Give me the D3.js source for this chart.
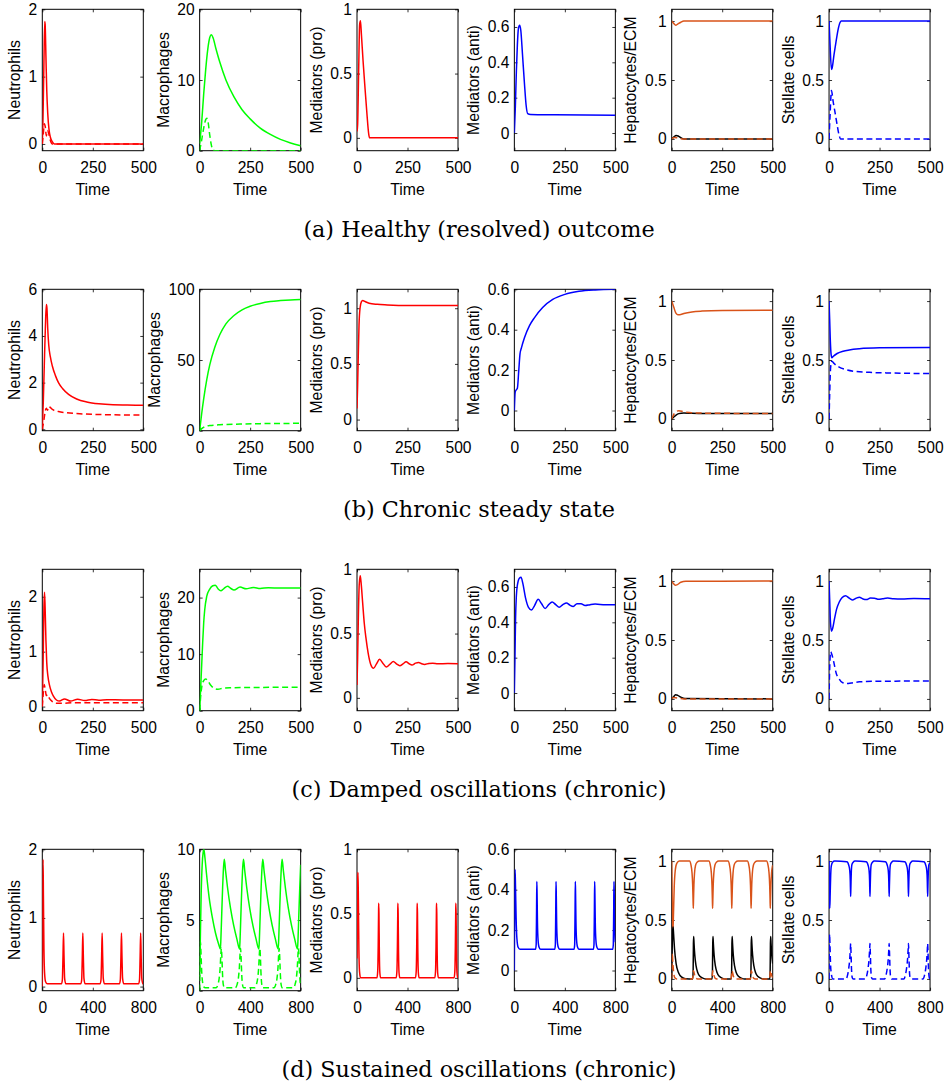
<!DOCTYPE html>
<html>
<head>
<meta charset="utf-8">
<script src="https://cdn.jsdelivr.net/npm/d3@7"></script>
<style>
  body { margin: 0; background: #fff; }
  svg { display: block; }
  .tick text { font-family: "Liberation Sans", Arial, sans-serif; font-size: 15.6px; fill: #000; }
  .lbl { font-family: "Liberation Sans", Arial, sans-serif; font-size: 15.8px; fill: #000; }
  .cap { font-family: "DejaVu Serif", serif; font-size: 22.3px; fill: #000; }
</style>
</head>
<body>
<script>
// ---- data: [time, value] ----

// (a) healthy
const a_neut = [[0,0],[3,0.3],[8,1.2],[12,1.82],[14,1.78],[18,1.3],[22,0.8],[27,0.45],[33,0.22],[40,0.1],[50,0.03],[60,0],[500,0]];
const a_neutD = [[0,0],[5,0.15],[10,0.3],[15,0.25],[20,0.12],[26,0.2],[32,0.15],[40,0.05],[50,0],[500,0]];
const a_mac = [[0,1],[10,4],[20,8],[30,11.5],[40,14.3],[50,16],[58,16.4],[66,16],[80,14.5],[100,12.5],[130,10],[170,7.6],[210,5.8],[250,4.5],[300,3.2],[350,2.3],[400,1.6],[450,1.1],[500,0.7]];
const a_macD = [[0,0],[10,1.5],[20,3.2],[30,4.4],[36,4.6],[42,4],[50,2.2],[58,0.8],[66,0.1],[75,0],[500,0]];
const a_pro = [[0,0.05],[3,0.1],[8,0.5],[13,0.88],[17,0.91],[22,0.8],[30,0.6],[40,0.38],[50,0.17],[58,0.03],[62,0],[500,0]];
const a_anti = [[0,0],[5,0.15],[10,0.35],[15,0.5],[20,0.59],[26,0.61],[32,0.58],[40,0.45],[50,0.28],[58,0.16],[66,0.11],[80,0.105],[200,0.103],[500,0.1]];
const a_hep = [[0,1],[10,0.98],[20,0.965],[30,0.975],[45,0.99],[60,1],[500,1]];
const a_ecm = [[0,0],[10,0.015],[22,0.03],[32,0.025],[45,0.01],[60,0],[500,0]];
const a_hepD = [[0,0],[12,0.012],[25,0.01],[40,0.003],[60,0],[500,0]];
const a_stel = [[0,1],[5,0.8],[12,0.59],[15,0.6],[25,0.72],[35,0.83],[45,0.93],[55,0.99],[60,1],[500,1]];
const a_stelD = [[0,0],[5,0.2],[12,0.41],[20,0.32],[30,0.22],[40,0.12],[50,0.03],[57,0],[500,0]];

// (b) chronic steady state
const b_neut = [[0,0],[5,1.2],[10,2.8],[15,4.3],[20,5.35],[23,5.2],[27,4.3],[32,3.6],[40,3.1],[50,2.7],[65,2.3],[80,2.0],[100,1.75],[130,1.5],[170,1.3],[220,1.17],[280,1.09],[350,1.05],[420,1.04],[500,1.03]];
const b_neutD = [[0,0],[8,0.4],[15,0.8],[20,0.9],[26,0.82],[32,0.98],[38,0.95],[50,0.85],[80,0.76],[120,0.71],[200,0.66],[300,0.63],[500,0.61]];
const b_mac = [[0,0],[10,12],[20,22.5],[35,36],[50,46.5],[75,59],[100,68],[130,75.5],[170,81.5],[210,85.5],[250,88],[300,90],[350,91.3],[400,92],[450,92.5],[500,92.8]];
const b_macD = [[0,0],[15,2],[30,3.2],[50,3.6],[100,4.2],[200,4.7],[300,5],[500,5.2]];
const b_pro = [[0,0.1],[3,0.3],[6,0.55],[10,0.85],[15,1.0],[22,1.06],[28,1.07],[40,1.06],[60,1.045],[100,1.035],[150,1.03],[250,1.025],[500,1.025]];
const b_anti = [[0,0],[4,0.09],[8,0.1],[15,0.11],[22,0.2],[28,0.28],[35,0.31],[50,0.36],[75,0.42],[100,0.46],[140,0.51],[190,0.55],[250,0.575],[320,0.59],[400,0.597],[500,0.6]];
const b_hep = [[0,1],[10,0.95],[20,0.9],[30,0.885],[40,0.885],[60,0.895],[100,0.908],[150,0.915],[250,0.92],[500,0.922]];
const b_ecm = [[0,0],[10,0.015],[20,0.03],[35,0.045],[60,0.05],[100,0.048],[200,0.045],[500,0.045]];
const b_hepD = [[0,0],[8,0.03],[20,0.06],[35,0.07],[60,0.06],[100,0.052],[200,0.048],[500,0.046]];
const b_stel = [[0,1],[3,0.85],[6,0.68],[10,0.55],[14,0.52],[20,0.53],[40,0.555],[70,0.575],[100,0.585],[150,0.595],[250,0.603],[500,0.607]];
const b_stelD = [[0,0],[3,0.2],[6,0.38],[10,0.47],[14,0.49],[25,0.47],[50,0.44],[80,0.42],[120,0.405],[200,0.395],[300,0.39],[500,0.385]];

// (c) damped oscillations
const c_neut = [[0,0],[4,0.8],[8,1.8],[11,2.08],[14,1.8],[18,1.2],[22,0.8],[28,0.55],[35,0.4],[45,0.27],[55,0.19],[70,0.12],[85,0.1],[110,0.14],[140,0.1],[175,0.135],[210,0.11],[245,0.13],[280,0.115],[320,0.125],[400,0.12],[500,0.12]];
const c_neutD = [[0,0],[5,0.25],[10,0.4],[15,0.3],[20,0.2],[25,0.22],[35,0.15],[50,0.09],[70,0.06],[100,0.06],[150,0.07],[250,0.07],[500,0.07]];
const c_mac = [[0,0],[5,4],[10,8],[15,12],[20,15.5],[25,17.8],[35,20.2],[50,21.5],[65,22.1],[77,22.2],[90,21.6],[105,21.2],[120,21.6],[138,22],[155,21.6],[170,21.35],[200,21.85],[230,21.55],[265,21.8],[300,21.6],[340,21.75],[400,21.68],[500,21.7]];
const c_macD = [[0,0],[5,2.5],[12,4.5],[20,5.3],[30,5.6],[40,5.3],[55,4.5],[70,4.0],[90,3.8],[120,4.0],[160,4.05],[250,4.1],[500,4.15]];
const c_pro = [[0,0.1],[3,0.3],[7,0.65],[11,0.88],[16,0.95],[20,0.9],[28,0.74],[36,0.58],[44,0.47],[55,0.35],[68,0.26],[82,0.23],[95,0.26],[112,0.3],[128,0.27],[145,0.24],[162,0.26],[180,0.283],[195,0.265],[212,0.25],[228,0.265],[243,0.28],[258,0.265],[272,0.255],[290,0.27],[305,0.275],[320,0.265],[335,0.26],[355,0.268],[375,0.27],[400,0.265],[450,0.267],[500,0.266]];
const c_anti = [[0,0],[3,0.2],[6,0.42],[10,0.55],[15,0.61],[25,0.65],[33,0.655],[42,0.62],[55,0.54],[70,0.485],[85,0.47],[100,0.495],[118,0.53],[135,0.505],[152,0.478],[170,0.5],[187,0.515],[205,0.5],[222,0.485],[240,0.5],[258,0.51],[275,0.497],[292,0.49],[310,0.505],[330,0.505],[350,0.495],[375,0.5],[400,0.503],[450,0.5],[500,0.5]];
const c_hep = [[0,1],[8,0.98],[18,0.965],[28,0.97],[45,0.99],[70,0.998],[500,1]];
const c_ecm = [[0,0],[10,0.02],[20,0.035],[30,0.03],[45,0.015],[65,0.003],[500,0]];
const c_hepD = [[0,0],[8,0.012],[20,0.01],[40,0.004],[60,0],[500,0]];
const c_stel = [[0,1],[3,0.85],[7,0.65],[12,0.575],[18,0.6],[27,0.68],[37,0.76],[50,0.82],[65,0.86],[82,0.875],[100,0.855],[118,0.84],[135,0.855],[150,0.863],[168,0.848],[185,0.843],[205,0.856],[225,0.855],[245,0.845],[265,0.85],[290,0.856],[320,0.85],[360,0.848],[420,0.852],[500,0.85]];
const c_stelD = [[0,0],[3,0.25],[8,0.4],[15,0.37],[25,0.3],[35,0.22],[50,0.17],[65,0.14],[85,0.13],[110,0.135],[150,0.145],[250,0.15],[500,0.152]];

// (d) sustained oscillations
const d_neut = [[0,0],[3,1.3],[6,1.85],[9,1.3],[13,0.55],[18,0.2],[26,0.07],[40,0.04],[152,0.04],[159,0.1],[164,0.45],[168,0.78],[172,0.45],[177,0.12],[186,0.04],
  [305,0.04],[312,0.1],[317,0.45],[321,0.78],[325,0.45],[330,0.12],[339,0.04],
  [458,0.04],[465,0.1],[470,0.45],[474,0.78],[478,0.45],[483,0.12],[492,0.04],
  [611,0.04],[618,0.1],[623,0.45],[627,0.78],[631,0.45],[636,0.12],[645,0.04],
  [763,0.04],[770,0.1],[775,0.45],[779,0.78],[783,0.45],[788,0.12],[797,0.04],[800,0.04]];
const d_mac = [[0,1],[6,4],[12,6.8],[20,8.9],[28,9.8],[34,10],[42,9.4],[55,8.2],[75,6.6],[100,5.2],[125,4.1],[150,3.3],[164,2.95],
  [168,3.6],[174,5.2],[182,7.3],[189,8.7],[195,9.3],[205,8.5],[220,7.35],[245,5.8],[270,4.6],[295,3.65],[316,2.95],
  [320,3.6],[326,5.2],[334,7.3],[341,8.7],[347,9.3],[357,8.5],[372,7.35],[397,5.8],[422,4.6],[447,3.65],[469,2.95],
  [473,3.6],[479,5.2],[487,7.3],[494,8.7],[500,9.3],[510,8.5],[525,7.35],[550,5.8],[575,4.6],[600,3.65],[622,2.95],
  [626,3.6],[632,5.2],[640,7.3],[647,8.7],[653,9.3],[663,8.5],[678,7.35],[703,5.8],[728,4.6],[753,3.65],[775,2.95],
  [779,3.6],[785,5.2],[793,7.3],[800,8.9]];
const d_macD = [[0,0],[3,2.5],[6,3.5],[10,2.8],[16,1.4],[24,0.55],[35,0.25],[50,0.2],
  [130,0.2],[145,0.45],[155,0.9],[163,1.7],[168,2.6],[172,3.0],[176,2.4],[181,1.2],[187,0.45],[197,0.2],
  [282,0.2],[297,0.45],[307,0.9],[315,1.7],[320,2.6],[324,3.0],[328,2.4],[333,1.2],[339,0.45],[349,0.2],
  [435,0.2],[450,0.45],[460,0.9],[468,1.7],[473,2.6],[477,3.0],[481,2.4],[486,1.2],[492,0.45],[502,0.2],
  [588,0.2],[603,0.45],[613,0.9],[621,1.7],[626,2.6],[630,3.0],[634,2.4],[639,1.2],[645,0.45],[655,0.2],
  [741,0.2],[756,0.45],[766,0.9],[774,1.7],[779,2.6],[783,3.0],[787,2.4],[792,1.2],[798,0.45],[800,0.35]];
const d_pro = [[0,0.15],[3,0.45],[6,0.78],[8,0.82],[11,0.6],[15,0.22],[20,0.05],[28,0],
  [158,0],[164,0.05],[168,0.25],[171,0.52],[172,0.58],[174,0.5],[177,0.2],[181,0.04],[187,0],
  [310,0],[316,0.05],[320,0.25],[323,0.52],[324,0.58],[326,0.5],[329,0.2],[333,0.04],[339,0],
  [463,0],[469,0.05],[473,0.25],[476,0.52],[477,0.58],[479,0.5],[482,0.2],[486,0.04],[492,0],
  [616,0],[622,0.05],[626,0.25],[629,0.52],[630,0.58],[632,0.5],[635,0.2],[639,0.04],[645,0],
  [769,0],[775,0.05],[779,0.25],[782,0.52],[783,0.58],[785,0.5],[788,0.2],[792,0.04],[798,0],[800,0]];
const d_anti = [[0,0],[3,0.35],[6,0.5],[9,0.42],[14,0.26],[20,0.16],[30,0.115],[45,0.105],
  [168,0.105],[173,0.13],[176,0.3],[178,0.44],[180,0.38],[183,0.24],[188,0.15],[196,0.115],[208,0.105],
  [320,0.105],[325,0.13],[328,0.3],[330,0.44],[332,0.38],[335,0.24],[340,0.15],[348,0.115],[360,0.105],
  [473,0.105],[478,0.13],[481,0.3],[483,0.44],[485,0.38],[488,0.24],[493,0.15],[501,0.115],[513,0.105],
  [626,0.105],[631,0.13],[634,0.3],[636,0.44],[638,0.38],[641,0.24],[646,0.15],[654,0.115],[666,0.105],
  [779,0.105],[784,0.13],[787,0.3],[789,0.44],[791,0.38],[794,0.24],[800,0.14]];
const d_hep = [[0,1],[3,0.75],[7,0.45],[10,0.4],[14,0.55],[20,0.78],[28,0.92],[40,0.98],[60,1.0],
  [141,1.0],[153,0.965],[161,0.9],[166,0.8],[169,0.68],[171,0.6],[173,0.68],[176,0.8],[181,0.9],[189,0.965],[201,0.99],[220,1.0],
  [294,1.0],[306,0.965],[314,0.9],[319,0.8],[322,0.68],[324,0.6],[326,0.68],[329,0.8],[334,0.9],[342,0.965],[354,0.99],[373,1.0],
  [446,1.0],[458,0.965],[466,0.9],[471,0.8],[474,0.68],[476,0.6],[478,0.68],[481,0.8],[486,0.9],[494,0.965],[506,0.99],[525,1.0],
  [599,1.0],[611,0.965],[619,0.9],[624,0.8],[627,0.68],[629,0.6],[631,0.68],[634,0.8],[639,0.9],[647,0.965],[659,0.99],[678,1.0],
  [751,1.0],[763,0.965],[771,0.9],[776,0.8],[779,0.68],[781,0.6],[783,0.68],[786,0.8],[791,0.9],[799,0.96],[800,0.965]];
const d_ecm = [[0,0],[3,0.2],[7,0.4],[11,0.44],[15,0.38],[22,0.26],[35,0.13],[55,0.05],[80,0.015],[110,0.002],
  [167,0],[170,0.08],[172,0.3],[174,0.36],[177,0.3],[183,0.2],[193,0.11],[206,0.055],[226,0.02],[251,0.005],[271,0],
  [320,0],[323,0.08],[325,0.3],[327,0.36],[330,0.3],[336,0.2],[346,0.11],[359,0.055],[379,0.02],[404,0.005],[424,0],
  [472,0],[475,0.08],[477,0.3],[479,0.36],[482,0.3],[488,0.2],[498,0.11],[511,0.055],[531,0.02],[556,0.005],[576,0],
  [625,0],[628,0.08],[630,0.3],[632,0.36],[635,0.3],[641,0.2],[651,0.11],[664,0.055],[684,0.02],[709,0.005],[729,0],
  [777,0],[780,0.08],[782,0.3],[784,0.36],[787,0.3],[793,0.2],[800,0.13]];
const d_hepD = [[0,0],[4,0.22],[9,0.14],[16,0.05],[25,0.01],[40,0],
  [164,0],[168,0.02],[172,0.07],[176,0.06],[182,0.03],[192,0.005],[205,0],
  [317,0],[321,0.02],[325,0.07],[329,0.06],[335,0.03],[345,0.005],[358,0],
  [469,0],[473,0.02],[477,0.07],[481,0.06],[487,0.03],[497,0.005],[510,0],
  [622,0],[626,0.02],[630,0.07],[634,0.06],[640,0.03],[650,0.005],[663,0],
  [774,0],[778,0.02],[782,0.07],[786,0.06],[792,0.03],[800,0.01]];
const d_stel = [[0,1],[2,0.8],[4,0.62],[6,0.6],[9,0.72],[13,0.88],[18,0.96],[28,0.99],[45,1.0],
  [141,0.995],[156,0.965],[164,0.92],[168,0.84],[171,0.7],[173,0.78],[176,0.9],[181,0.97],[191,0.99],[206,1.0],
  [294,0.995],[309,0.965],[317,0.92],[321,0.84],[324,0.7],[326,0.78],[329,0.9],[334,0.97],[344,0.99],[359,1.0],
  [446,0.995],[461,0.965],[469,0.92],[473,0.84],[476,0.7],[478,0.78],[481,0.9],[486,0.97],[496,0.99],[511,1.0],
  [599,0.995],[614,0.965],[622,0.92],[626,0.84],[629,0.7],[631,0.78],[634,0.9],[639,0.97],[649,0.99],[664,1.0],
  [751,0.995],[766,0.965],[774,0.92],[778,0.84],[781,0.7],[783,0.78],[786,0.9],[791,0.97],[800,0.985]];
const d_stelD = [[0,0],[2,0.25],[4,0.38],[7,0.3],[12,0.12],[20,0.03],[30,0],
  [136,0],[146,0.03],[156,0.09],[164,0.17],[169,0.26],[171,0.3],[174,0.22],[178,0.08],[184,0.01],[191,0],
  [289,0],[299,0.03],[309,0.09],[317,0.17],[322,0.26],[324,0.3],[327,0.22],[331,0.08],[337,0.01],[344,0],
  [441,0],[451,0.03],[461,0.09],[469,0.17],[474,0.26],[476,0.3],[479,0.22],[483,0.08],[489,0.01],[496,0],
  [594,0],[604,0.03],[614,0.09],[622,0.17],[627,0.26],[629,0.3],[632,0.22],[636,0.08],[642,0.01],[649,0],
  [746,0],[756,0.03],[766,0.09],[774,0.17],[779,0.26],[781,0.3],[784,0.22],[788,0.08],[794,0.01],[800,0]];

// ---- labels / ticks ----
const yLabels = ["Neutrophils", "Macrophages", "Mediators (pro)", "Mediators (anti)", "Hepatocytes/ECM", "Stellate cells"];
const captions = ["(a) Healthy (resolved) outcome", "(b) Chronic steady state", "(c) Damped oscillations (chronic)", "(d) Sustained oscillations (chronic)"];
const xTicksShort = [0, 250, 500];
const xTicksLong = [0, 400, 800];
const tmaxRow = [500, 500, 500, 800];

const yDomains = [
  [[-0.1, 2], [0, 20], [-0.1, 1], [-0.1, 0.7], [-0.1, 1.1], [-0.1, 1.1]],
  [[-0.06, 6], [0, 100], [-0.1, 1.17], [-0.1, 0.6], [-0.1, 1.1], [-0.1, 1.1]],
  [[-0.075, 2.5], [0, 25], [-0.1, 1], [-0.1, 0.7], [-0.1, 1.1], [-0.1, 1.1]],
  [[-0.06, 2], [0, 10], [-0.1, 1], [-0.1, 0.6], [-0.1, 1.1], [-0.1, 1.1]]
];
const yTicks = [
  [[0, 1, 2], [0, 10, 20], [0, 0.5, 1], [0, 0.2, 0.4, 0.6], [0, 0.5, 1], [0, 0.5, 1]],
  [[0, 2, 4, 6], [0, 50, 100], [0, 0.5, 1], [0, 0.2, 0.4, 0.6], [0, 0.5, 1], [0, 0.5, 1]],
  [[0, 1, 2], [0, 10, 20], [0, 0.5, 1], [0, 0.2, 0.4, 0.6], [0, 0.5, 1], [0, 0.5, 1]],
  [[0, 1, 2], [0, 5, 10], [0, 0.5, 1], [0, 0.2, 0.4, 0.6], [0, 0.5, 1], [0, 0.5, 1]]
];

const RED = "#ff0000", GREEN = "#00ff00", BLUE = "#0000ff", ORANGE = "#d95319", BLACK = "#000000";

// series per panel (row, col)
const seriesTable = [
  [[[a_neut, RED], [a_neutD, RED, 1]], [[a_mac, GREEN], [a_macD, GREEN, 1]], [[a_pro, RED]], [[a_anti, BLUE]],
   [[a_hep, ORANGE], [a_ecm, BLACK], [a_hepD, ORANGE, 1]], [[a_stel, BLUE], [a_stelD, BLUE, 1]]],
  [[[b_neut, RED], [b_neutD, RED, 1]], [[b_mac, GREEN], [b_macD, GREEN, 1]], [[b_pro, RED]], [[b_anti, BLUE]],
   [[b_hep, ORANGE], [b_ecm, BLACK], [b_hepD, ORANGE, 1]], [[b_stel, BLUE], [b_stelD, BLUE, 1]]],
  [[[c_neut, RED], [c_neutD, RED, 1]], [[c_mac, GREEN], [c_macD, GREEN, 1]], [[c_pro, RED]], [[c_anti, BLUE]],
   [[c_hep, ORANGE], [c_ecm, BLACK], [c_hepD, ORANGE, 1]], [[c_stel, BLUE], [c_stelD, BLUE, 1]]],
  [[[d_neut, RED]], [[d_mac, GREEN], [d_macD, GREEN, 1]], [[d_pro, RED]], [[d_anti, BLUE]],
   [[d_hep, ORANGE], [d_ecm, BLACK], [d_hepD, ORANGE, 1]], [[d_stel, BLUE], [d_stelD, BLUE, 1]]]
];

// ---- layout ----
const W = 947, H = 1087;
const panelW = 101, panelH = 141.4;
const left0 = 42.3, colStep = 157.35;
const top0 = 9.3, rowStep = 280;

const svg = d3.select("body").append("svg")
  .attr("width", W)
  .attr("height", H);

svg.append("rect").attr("width", W).attr("height", H).attr("fill", "#fff");

let clipId = 0;

function drawPanel(r, c) {
  const g = svg.append("g")
    .attr("transform", "translate(" + (left0 + c * colStep) + "," + (top0 + r * rowStep) + ")");

  const x = d3.scaleLinear().domain([0, tmaxRow[r]]).range([0, panelW]);
  const y = d3.scaleLinear().domain(yDomains[r][c]).range([panelH, 0]);
  const xt = r === 3 ? xTicksLong : xTicksShort;
  const yt = yTicks[r][c];
  const fmt = d3.format("~g");

  // axes, ticks inside on all four sides
  const yAx = g.append("g")
    .call(d3.axisLeft(y).tickValues(yt).tickFormat(fmt).tickSizeInner(-3).tickSizeOuter(0).tickPadding(5));
  g.append("g").attr("transform", "translate(" + panelW + ",0)")
    .call(d3.axisRight(y).tickValues(yt).tickFormat("").tickSizeInner(-3).tickSizeOuter(0));
  g.append("g").attr("transform", "translate(0," + panelH + ")")
    .call(d3.axisBottom(x).tickValues(xt).tickFormat(fmt).tickSizeInner(-3).tickSizeOuter(0).tickPadding(11));
  g.append("g")
    .call(d3.axisTop(x).tickValues(xt).tickFormat("").tickSizeInner(-3).tickSizeOuter(0));
  g.selectAll(".domain").remove();
  g.selectAll(".tick line").attr("stroke", "#000").attr("stroke-width", 0.8);

  g.append("rect")
    .attr("width", panelW).attr("height", panelH)
    .attr("fill", "none").attr("stroke", "#000").attr("stroke-width", 1);

  // lines
  const id = "clip" + (clipId++);
  g.append("clipPath").attr("id", id)
    .append("rect").attr("width", panelW).attr("height", panelH);

  const line = d3.line()
    .x(d => x(d[0]))
    .y(d => y(d[1]))
    .curve(d3.curveMonotoneX);

  const lines = g.append("g").attr("clip-path", "url(#" + id + ")");
  seriesTable[r][c].forEach(s => {
    lines.append("path")
      .attr("d", line(s[0]))
      .attr("fill", "none")
      .attr("stroke", s[1])
      .attr("stroke-width", 1.5)
      .attr("stroke-linejoin", "round")
      .attr("stroke-dasharray", s[2] ? "6,3.5" : null);
  });

  // y label placed left of the widest tick label
  let maxW = 0;
  yAx.selectAll(".tick text").each(function () { maxW = Math.max(maxW, this.getBBox().width); });
  g.append("text")
    .attr("class", "lbl")
    .attr("transform", "translate(" + (-5 - maxW - 8.3) + "," + (panelH / 2) + ") rotate(-90)")
    .attr("text-anchor", "middle")
    .text(yLabels[c]);

  g.append("text")
    .attr("class", "lbl")
    .attr("x", panelW / 2)
    .attr("y", panelH + 44.3)
    .attr("text-anchor", "middle")
    .text("Time");
}

for (let r = 0; r < 4; r++) {
  for (let c = 0; c < 6; c++) drawPanel(r, c);
  svg.append("text")
    .attr("class", "cap")
    .attr("x", 479)
    .attr("y", 237 + r * rowStep)
    .attr("text-anchor", "middle")
    .text(captions[r]);
}
</script>
</body>
</html>
